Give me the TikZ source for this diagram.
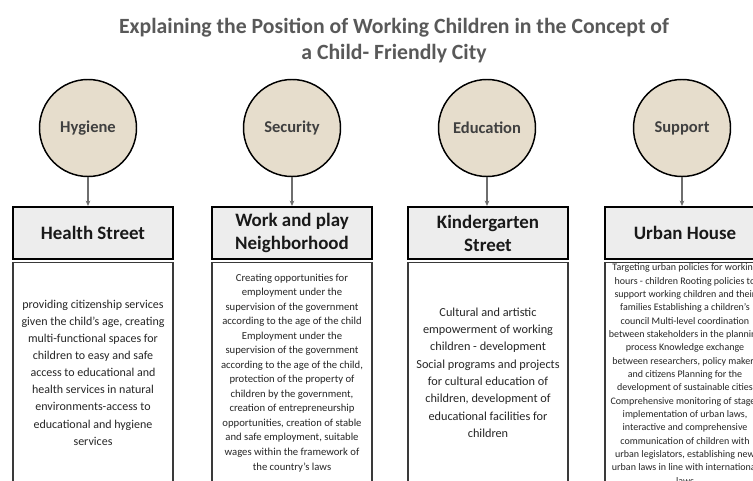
\documentclass[tikz,border=0pt]{standalone}
\usepackage{fontspec}
\setmainfont{Carlito}
\usetikzlibrary{arrows.meta}
\definecolor{circfill}{HTML}{E6DDCC}
\definecolor{headfill}{HTML}{EDEDED}
\definecolor{titlegray}{HTML}{595959}
\definecolor{circtext}{HTML}{404040}
\definecolor{bodyline}{HTML}{3A3A3A}
\definecolor{arrowgray}{HTML}{6E6E6E}
\begin{document}
\begin{tikzpicture}[x=0.75pt,y=-0.75pt,
  circ/.style={circle,draw=black,line width=1.1pt,fill=circfill,minimum size=72.75pt,inner sep=0pt,
    font=\bfseries\fontsize{12.4}{14}\selectfont,text=circtext},
  head/.style={rectangle,draw=black,line width=1.6pt,fill=headfill,minimum width=120pt,minimum height=39pt,
    inner sep=1pt,align=center,font=\bfseries\fontsize{14.2}{17.25}\selectfont,text=black!90},
  bodybox/.style={rectangle,draw=bodyline,line width=1.1pt,minimum width=120pt,minimum height=165.5pt,
    inner sep=1pt,align=center,anchor=north,text=black!85},
  conn/.style={draw=arrowgray,line width=0.8pt,-{Stealth[length=4pt,width=3.5pt]}}]
\useasboundingbox (0,0) rectangle (753,481);
\clip (0,0) rectangle (753,481);
\fill[white] (0,0) rectangle (753,481);
\node[font=\bfseries\fontsize{16.3}{19.5}\selectfont,text=titlegray,align=center] (title) at (394,40.5)
  {Explaining the Position of Working Children in the Concept of\\a Child- Friendly City};
% circles
\node[circ] (c1) at (88,128) {Hygiene};
\node[circ] (c2) at (292,128) {Security};
\node[circ] (c3) at (487,128) {Education};
\node[circ] (c4) at (682,128) {Support};
% headers
\node[head] (h1) at (93,233) {Health Street};
\node[head] (h2) at (292,233) {Work and play\\Neighborhood};
\node[head] (h3) at (488,233) {Kindergarten\\Street};
\node[head] (h4) at (685,233) {Urban House};
% connectors
\draw[conn] (c1.south) -- (c1.south |- h1.north);
\draw[conn] (c2.south) -- (c2.south |- h2.north);
\draw[conn] (c3.south) -- (c3.south |- h3.north);
\draw[conn] (c4.south) -- (c4.south |- h4.north);
% bodies
\node[bodybox,font=\fontsize{9}{12.8}\selectfont] (b1) at ([yshift=-1.2pt]h1.south)
  {providing citizenship services\\given the child's age, creating\\multi-functional spaces for\\children to easy and safe\\access to educational and\\health services in natural\\environments-access to\\educational and hygiene\\services};
\node[bodybox,font=\fontsize{8}{10.9}\selectfont] (b2) at ([yshift=-1.2pt]h2.south)
  {Creating opportunities for\\employment under the\\supervision of the government\\according to the age of the child\\Employment under the\\supervision of the government\\according to the age of the child,\\protection of the property of\\children by the government,\\creation of entrepreneurship\\opportunities, creation of stable\\and safe employment, suitable\\wages within the framework of\\the country's laws};
\node[bodybox,font=\fontsize{9.2}{13}\selectfont] (b3) at ([yshift=-1.2pt]h3.south)
  {Cultural and artistic\\empowerment of working\\children - development\\Social programs and projects\\for cultural education of\\children, development of\\educational facilities for\\children};
\node[bodybox,font=\fontsize{7.5}{10}\selectfont] (b4) at ([yshift=-1.2pt]h4.south)
  {Targeting urban policies for working\\hours - children Rooting policies to\\support working children and their\\families Establishing a children's\\council Multi-level coordination\\between stakeholders in the planning\\process Knowledge exchange\\between researchers, policy makers\\and citizens Planning for the\\development of sustainable cities\\Comprehensive monitoring of stages\\implementation of urban laws,\\interactive and comprehensive\\communication of children with\\urban legislators, establishing new\\urban laws in line with international\\laws};
\end{tikzpicture}
\end{document}
